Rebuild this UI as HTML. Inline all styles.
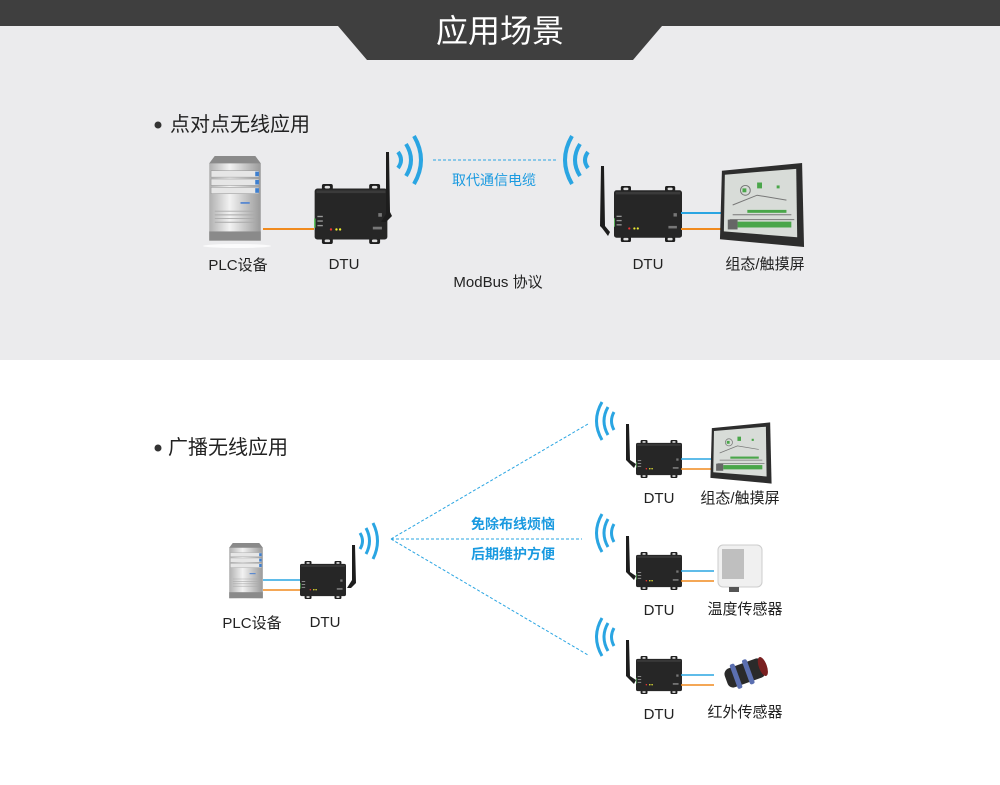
<!DOCTYPE html>
<html><head><meta charset="utf-8"><style>
html,body{margin:0;padding:0}
body{width:1000px;height:780px;overflow:hidden;background:#fff;font-family:"Liberation Sans","Noto Sans CJK SC",sans-serif}
</style></head><body>
<svg width="1000" height="780" viewBox="0 0 1000 780" xmlns="http://www.w3.org/2000/svg" font-family="Liberation Sans, Noto Sans CJK SC, sans-serif">
<defs>
<symbol id="dtu" viewBox="0 0 80 66">
  <rect x="8" y="0" width="12" height="8" rx="2" fill="#1e1e1e"/><rect x="60" y="0" width="12" height="8" rx="2" fill="#1e1e1e"/>
  <rect x="8" y="58" width="12" height="8" rx="2" fill="#1e1e1e"/><rect x="60" y="58" width="12" height="8" rx="2" fill="#1e1e1e"/>
  <rect x="11" y="2" width="6" height="3" rx="1.5" fill="#ddd"/><rect x="63" y="2" width="6" height="3" rx="1.5" fill="#ddd"/>
  <rect x="11" y="61" width="6" height="3" rx="1.5" fill="#ddd"/><rect x="63" y="61" width="6" height="3" rx="1.5" fill="#ddd"/>
  <rect x="0" y="5" width="80" height="56" rx="3" fill="#262626"/>
  <rect x="2" y="7" width="76" height="3" fill="#3a3a3a"/>
  <rect x="-2" y="38" width="3" height="10" fill="#5fc45f"/>
  <rect x="3" y="35" width="6" height="1.5" fill="#999"/><rect x="3" y="40" width="6" height="1.5" fill="#999"/><rect x="3" y="45" width="6" height="1.5" fill="#999"/>
  <circle cx="18" cy="50" r="1.3" fill="#e33"/><circle cx="24" cy="50" r="1.3" fill="#ee3"/><circle cx="28" cy="50" r="1.3" fill="#ee3"/>
  <rect x="64" y="47" width="10" height="3" fill="#777"/><rect x="70" y="32" width="4" height="4" fill="#777"/>
</symbol>
<symbol id="server" viewBox="0 0 60 100">
  <defs><linearGradient id="sg" x1="0" x2="1"><stop offset="0" stop-color="#b0b0b0"/><stop offset=".4" stop-color="#f2f2f2"/><stop offset="1" stop-color="#9a9a9a"/></linearGradient></defs>
  <path d="M8 0 H52 L58 8 V92 H2 V8 Z" fill="url(#sg)"/>
  <path d="M8 0 H52 L58 8 H2 Z" fill="#8a8a8a"/>
  <rect x="4" y="16" width="52" height="7" fill="#e6e6e6" stroke="#999" stroke-width=".6"/>
  <rect x="4" y="25" width="52" height="7" fill="#e6e6e6" stroke="#999" stroke-width=".6"/>
  <rect x="4" y="34" width="52" height="7" fill="#e6e6e6" stroke="#999" stroke-width=".6"/>
  <rect x="52" y="17" width="4" height="5" fill="#3d7fd0"/><rect x="52" y="26" width="4" height="5" fill="#3d7fd0"/><rect x="52" y="35" width="4" height="5" fill="#3d7fd0"/>
  <rect x="36" y="50" width="10" height="2" fill="#5c8ad0"/>
  <g stroke="#aaa" stroke-width="1"><path d="M8 60H52M8 64H52M8 68H52M8 72H52"/></g>
  <rect x="2" y="82" width="56" height="10" fill="#8a8a8a"/>
</symbol>
<symbol id="screen" viewBox="0 0 90 90">
  <path d="M4 10 L86 2 L88 88 L2 80 Z" fill="#2d2d2d"/>
  <path d="M7 14 L80 8 L81 78 L6 72 Z" fill="#d8dcd8"/>
  <g fill="#4aa64a"><rect x="25" y="28" width="4" height="4"/><rect x="40" y="22" width="5" height="6"/><rect x="60" y="25" width="3" height="3"/><rect x="30" y="50" width="40" height="3"/><rect x="20" y="62" width="55" height="6"/></g>
  <g stroke="#777" stroke-width="1" fill="none"><path d="M15 45 L40 35 L70 40 M15 55 H75 M12 60 H78"/><circle cx="28" cy="30" r="5"/></g>
  <rect x="10" y="60" width="10" height="10" fill="#666"/>
</symbol>
</defs>

<rect x="0" y="0" width="1000" height="360" fill="#ebebed"/>
<rect x="0" y="0" width="1000" height="26" fill="#3f3f3f"/>
<path d="M338 26 L367 60 L633 60 L662 26 Z" fill="#3f3f3f"/>
<text x="500" y="42" font-size="32" fill="#fff" text-anchor="middle">应用场景</text>

<circle cx="158" cy="125" r="3.5" fill="#333"/>
<text x="170" y="131" font-size="20" fill="#222">点对点无线应用</text>

<!-- top row -->
<use href="#server" x="205" y="156" width="60" height="92"/>
<ellipse cx="237" cy="246" rx="34" ry="2" fill="#fff" opacity=".8"/>
<line x1="263" y1="229" x2="314" y2="229" stroke="#f08a1e" stroke-width="2"/>
<use href="#dtu" x="314" y="184" width="74" height="60"/>
<path d="M386 152 L389 152 L390 212 L392 216 L386 222 L381 222 L386 214 Z" fill="#1d1d1d"/>
<g fill="none" stroke="#2aa5e2" stroke-width="4" stroke-linecap="butt">
<path d="M398 152 Q404 160 398 168"/><path d="M406 144 Q416 160 406 176"/><path d="M414 136 Q428 160 414 184"/>
<path d="M588 152 Q582 160 588 168"/><path d="M580 144 Q570 160 580 176"/><path d="M572 136 Q558 160 572 184"/>
</g>
<line x1="433" y1="160" x2="556" y2="160" stroke="#2aa5e2" stroke-width="1" stroke-dasharray="3,2"/>
<text x="494" y="185" font-size="14" fill="#1a9ae0" text-anchor="middle">取代通信电缆</text>
<text x="498" y="287" font-size="15" fill="#222" text-anchor="middle">ModBus 协议</text>
<path d="M601 166 L604 166 L605 226 L610 232 L608 236 L602 228 L600 226 Z" fill="#1d1d1d"/>
<use href="#dtu" x="614" y="184" width="68" height="60"/>
<line x1="681" y1="213" x2="722" y2="213" stroke="#2aa5e2" stroke-width="2"/>
<line x1="681" y1="229" x2="722" y2="229" stroke="#f08a1e" stroke-width="2"/>
<use href="#screen" x="718" y="160" width="88" height="90"/>
<text x="238" y="270" font-size="15" fill="#222" text-anchor="middle">PLC设备</text>
<text x="344" y="269" font-size="15" fill="#222" text-anchor="middle">DTU</text>
<text x="648" y="269" font-size="15" fill="#222" text-anchor="middle">DTU</text>
<text x="765" y="269" font-size="15" fill="#222" text-anchor="middle">组态/触摸屏</text>

<!-- bottom -->
<circle cx="158" cy="448" r="3.5" fill="#333"/>
<text x="168" y="454" font-size="20" fill="#222">广播无线应用</text>

<use href="#server" x="228" y="540" width="36" height="66"/>
<line x1="263" y1="580" x2="300" y2="580" stroke="#2aa5e2" stroke-width="1.5"/>
<line x1="263" y1="590" x2="300" y2="590" stroke="#f08a1e" stroke-width="1.5"/>
<use href="#dtu" x="300" y="560" width="46" height="40"/>
<path d="M352 545 L355 545 L356 583 L351 588 L347 588 L352 580 Z" fill="#1d1d1d"/>
<g fill="none" stroke="#2aa5e2" stroke-width="3">
<path d="M360 533 Q365 541 360 549"/><path d="M366 528 Q373 541 366 554"/><path d="M373 523 Q382 541 373 559"/>
</g>
<g stroke="#2aa5e2" stroke-width="1" stroke-dasharray="3,2">
<line x1="391" y1="539" x2="588" y2="424"/><line x1="391" y1="539" x2="582" y2="539"/><line x1="391" y1="539" x2="588" y2="655"/>
</g>
<text x="513" y="529" font-size="14" font-weight="bold" fill="#1a9ae0" text-anchor="middle">免除布线烦恼</text>
<text x="513" y="559" font-size="14" font-weight="bold" fill="#1a9ae0" text-anchor="middle">后期维护方便</text>
<text x="252" y="628" font-size="15" fill="#222" text-anchor="middle">PLC设备</text>
<text x="325" y="627" font-size="15" fill="#222" text-anchor="middle">DTU</text>

<g id="rx">
<g fill="none" stroke="#2aa5e2" stroke-width="3">
<path d="M614 412 Q609 421 614 430"/><path d="M608 407 Q600 421 608 435"/><path d="M602 402 Q591 421 602 440"/>
</g>
<path d="M626 424 L629 424 L630 460 L636 464 L634 468 L628 462 L626 460 Z" fill="#1d1d1d"/>
<use href="#dtu" x="636" y="438" width="46" height="42"/>
<line x1="681" y1="459" x2="714" y2="459" stroke="#2aa5e2" stroke-width="1.5"/>
<line x1="681" y1="469" x2="714" y2="469" stroke="#f08a1e" stroke-width="1.5"/>
<text x="659" y="503" font-size="15" fill="#222" text-anchor="middle">DTU</text>
</g>
<use href="#rx" x="0" y="112"/>
<use href="#rx" x="0" y="216"/>

<use href="#screen" x="709" y="421" width="64" height="64"/>
<text x="740" y="503" font-size="15" fill="#222" text-anchor="middle">组态/触摸屏</text>

<!-- temp sensor -->
<rect x="718" y="545" width="44" height="42" rx="5" fill="#f0f0f0" stroke="#ccc"/>
<rect x="722" y="549" width="22" height="30" fill="#bfbfbf"/>
<rect x="729" y="587" width="10" height="5" fill="#555"/>
<text x="745" y="614" font-size="15" fill="#222" text-anchor="middle">温度传感器</text>

<!-- IR sensor -->
<g transform="rotate(-20 745 673)">
<rect x="725" y="663" width="40" height="20" rx="6" fill="#2a2a2a"/>
<rect x="733" y="660" width="5" height="26" rx="2" fill="#5b6fb0"/>
<rect x="746" y="660" width="5" height="26" rx="2" fill="#5b6fb0"/>
<ellipse cx="764" cy="673" rx="4" ry="10" fill="#7a2020"/>
</g>
<text x="745" y="717" font-size="15" fill="#222" text-anchor="middle">红外传感器</text>
</svg>
</body></html>
